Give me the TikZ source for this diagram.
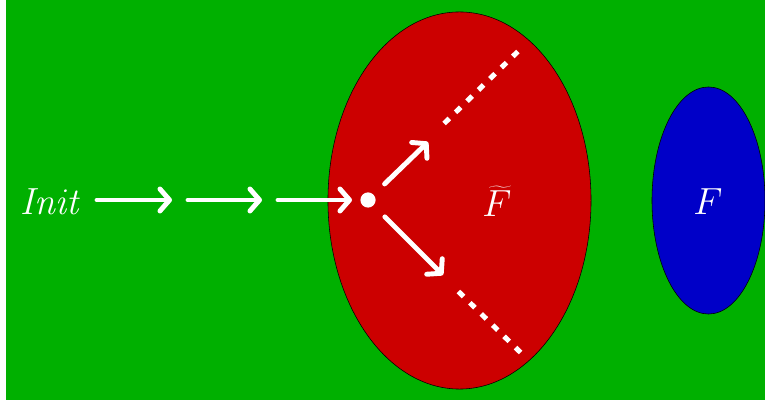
\documentclass[tikz,border=0pt]{standalone}
\usetikzlibrary{positioning,arrows.meta,shapes.geometric}
\definecolor{bggreen}{RGB}{0,176,0}
\definecolor{setred}{RGB}{204,0,0}
\definecolor{setblue}{RGB}{0,0,200}

\begin{document}
\begin{tikzpicture}[x=0.025cm,y=-0.025cm,
    lbl/.style={font=\Huge,text=white,scale=1.08},
    arr/.style={-{Straight Barb[length=0.24cm,width=0.55cm,round]},line width=3.5pt,white,line cap=round},
    dots/.style={line width=3.6pt,white,dash pattern=on 0.18cm off 0.22cm}]
      \useasboundingbox (0,0) rectangle (765,400);
      \fill[bggreen] (6,0) rectangle (765,400);
      \node[draw=black,ellipse,fill=setred,inner sep=0pt,minimum width=6.575cm,minimum height=9.425cm] (ft) at (459.5,200.5) {};
      \node[draw=black,ellipse,fill=setblue,inner sep=0pt,minimum width=2.825cm,minimum height=5.675cm] (f) at (708.5,200.5) {};
      \node[lbl] (init) at (51,202) {$\mathit{Init}$};
      \node[lbl] (ftl) at (497,201) {$\widetilde{F}$};
      \node[lbl] (fl) at (708,202) {$F$};
      \node[circle,fill=white,inner sep=0pt,minimum size=0.38cm] (pt) at (368,200) {};
      \coordinate (a1) at (97,200);
      \coordinate (a2) at (172,200);
      \coordinate (b1) at (188,200);
      \coordinate (b2) at (262,200);
      \coordinate (c1) at (278,200);
      \coordinate (c2) at (352,200);
      \coordinate (up) at (428,142);
      \coordinate (dn) at (443,275);
      \draw[arr] (a1) -- (a2);
      \draw[arr] (b1) -- (b2);
      \draw[arr] (c1) -- (c2);
      \draw[arr,shorten <=0.38cm] (pt) -- (up);
      \draw[arr,shorten <=0.4cm] (pt) -- (dn);
      % dotted tails
      \coordinate (u1) at (444.1,123.5);
      \coordinate (u2) at (517.9,51.5);
      \coordinate (d1) at (458.4,291.5);
      \coordinate (d2) at (520.6,352.5);
      \draw[dots] (u1) -- (u2);
      \draw[dots] (d1) -- (d2);
    \end{tikzpicture}
\end{document}
